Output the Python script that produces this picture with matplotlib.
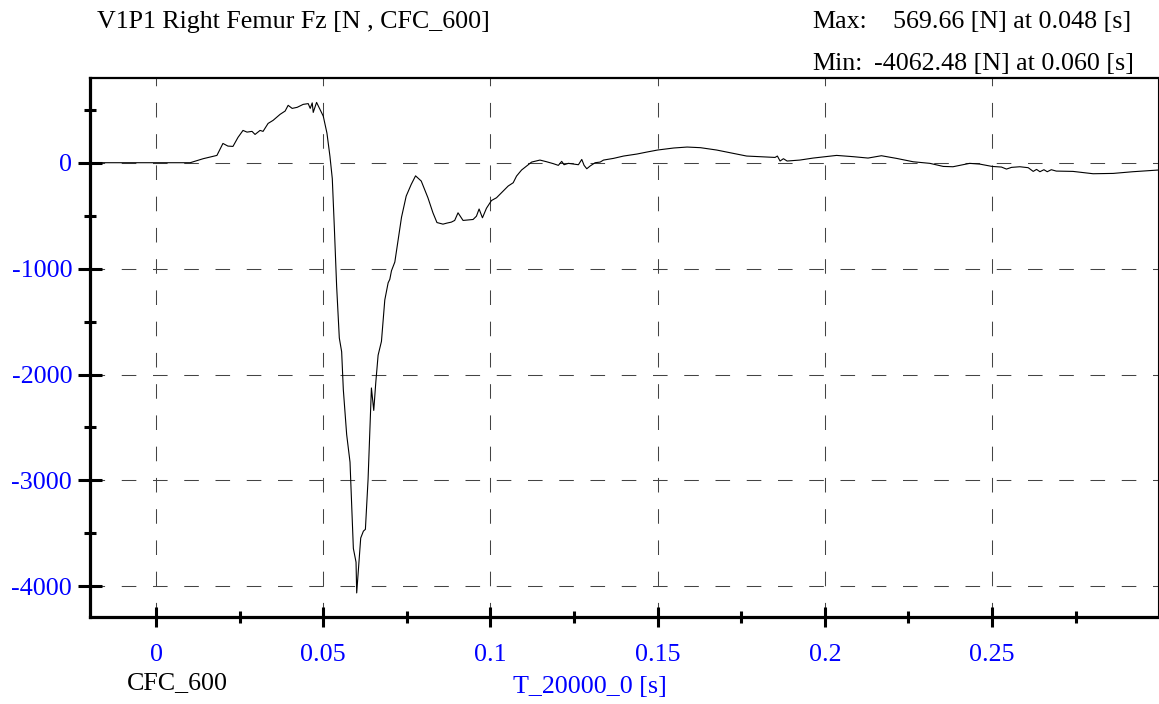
import matplotlib
matplotlib.use("Agg")
import matplotlib.pyplot as plt
from matplotlib.ticker import MultipleLocator
import numpy as np

# Right femur Fz
time_s = [-0.0167, 0.0, 0.0102, 0.0141, 0.0182, 0.0200, 0.0215, 0.0230, 0.0245, 0.0260,
          0.0272, 0.0287, 0.0296, 0.0311, 0.0320, 0.0335, 0.0350, 0.0371, 0.0386, 0.0395,
          0.0407, 0.0422, 0.0440, 0.0455, 0.0461, 0.0467, 0.0470, 0.0480, 0.0490, 0.0500,
          0.0511, 0.0520, 0.0527, 0.0533, 0.0540, 0.0548, 0.0555, 0.0560, 0.0570, 0.0580,
          0.0590, 0.0598, 0.0600, 0.0612, 0.0620, 0.0626, 0.0634, 0.0640, 0.0644, 0.0651,
          0.0657, 0.0664, 0.0674, 0.0684, 0.0694, 0.0699, 0.0704, 0.0714, 0.0724, 0.0734,
          0.0748, 0.0763, 0.0776, 0.0793, 0.0813, 0.0828, 0.0840, 0.0858, 0.0870, 0.0883,
          0.0893, 0.0903, 0.0918, 0.0933, 0.0948, 0.0958, 0.0966, 0.0976, 0.0988, 0.1003,
          0.1018, 0.1033, 0.1053, 0.1068, 0.1078, 0.1093, 0.1108, 0.1123, 0.1148, 0.1168,
          0.1188, 0.1203, 0.1213, 0.1220, 0.1233, 0.1248, 0.1263, 0.1273, 0.1280, 0.1288,
          0.1298, 0.1313, 0.1328, 0.1338, 0.1368, 0.1398, 0.1438, 0.1468, 0.1500, 0.1548,
          0.1588, 0.1628, 0.1676, 0.1726, 0.1766, 0.1806, 0.1851, 0.1858, 0.1866, 0.1876,
          0.1887, 0.1925, 0.1965, 0.2000, 0.2035, 0.2085, 0.2129, 0.2169, 0.2214, 0.2264,
          0.2314, 0.2354, 0.2383, 0.2433, 0.2463, 0.2500, 0.2528, 0.2543, 0.2558, 0.2583,
          0.2608, 0.2623, 0.2633, 0.2643, 0.2655, 0.2665, 0.2677, 0.2692, 0.2742, 0.2802,
          0.2862, 0.2921, 0.2997]
force_n = [0, 0, 0, 38, 69, 182, 157, 154, 239, 305,
           289, 296, 267, 305, 296, 371, 400, 457, 488, 542,
           513, 523, 551, 558, 513, 565, 475, 569.66, 504, 440,
           280, 60, -150, -600, -1166, -1655, -1785, -2143, -2567, -2827,
           -3642, -3772, -4062.48, -3544, -3479, -3462, -2990, -2469, -2127, -2339,
           -2078, -1818, -1687, -1296, -1134, -1101, -1020, -938, -726, -515,
           -315, -205, -124, -173, -331, -473, -565, -580, -570, -561,
           -545, -473, -545, -540, -536, -505, -437, -520, -430, -357,
           -331, -284, -220, -189, -126, -69, -32, 6, 25, 9,
           -9, -25, 13, -19, -6, -13, -19, 31, -25, -57,
           -31, 0, 6, 25, 41, 63, 82, 101, 120, 139,
           148, 142, 120, 88, 63, 57, 50, 63, 16, 38,
           16, 25, 44, 57, 69, 57, 44, 66, 41, 9,
           -6, -35, -38, -6, -13, -35, -41, -60, -44, -38,
           -47, -82, -63, -85, -66, -85, -66, -79, -82, -104,
           -101, -85, -69]

title = "V1P1 Right Femur Fz [N , CFC_600]"
filter_name = "CFC_600"
x_label = "T_20000_0 [s]"

t = np.array(time_s)
f = np.array(force_n)
i_max, i_min = f.argmax(), f.argmin()

plt.rcParams["font.family"] = ["Liberation Serif", "DejaVu Serif"]
FS = 18.7
W, H = 1159, 704
fig = plt.figure(figsize=(W / 100, H / 100), dpi=100)
ax = fig.add_axes([89.5 / W, 1 - 616.5 / H, (1158.3 - 89.5) / W, (616.5 - 78) / H])

ax.plot(t, f, color="black", lw=0.8)
ax.set_xlim(-0.0199, 0.2997)
ax.set_ylim(-4285, 800)

ax.xaxis.set_minor_locator(MultipleLocator(0.025))
ax.yaxis.set_minor_locator(MultipleLocator(500))
ax.set_xticks(np.arange(0, 0.26, 0.05))
ax.set_xticklabels(["0", "0.05", "0.1", "0.15", "0.2", "0.25"])
ax.set_yticks(np.arange(-4000, 1, 1000))
ax.set_yticklabels(["-4000", "-3000", "-2000", "-1000", "0"])

ax.grid(True, which="major", color="#444444", lw=0.75, ls=(0, (14, 16)))
ax.tick_params(axis="both", which="major", direction="inout", width=2.2,
               labelsize=FS, labelcolor="#0000ff")
ax.tick_params(axis="y", which="major", length=17, pad=4)
ax.tick_params(axis="x", which="major", length=15, pad=12)
ax.tick_params(axis="both", which="minor", direction="inout", width=2.2, length=8)

ax.spines["left"].set_linewidth(2.3)
ax.spines["bottom"].set_linewidth(2.3)
ax.spines["top"].set_linewidth(1.6)
ax.spines["right"].set_linewidth(0.8)

fig.text(97 / W, 1 - 22 / H, title, fontsize=FS, va="center", ha="left")
fig.text(812 / W, 1 - 22 / H, "Max:", fontsize=FS, va="center", ha="left")
fig.text(893 / W, 1 - 22 / H, f"{f[i_max]:.2f} [N] at {t[i_max]:.3f} [s]",
         fontsize=FS, va="center", ha="left")
fig.text(812 / W, 1 - 64 / H, "Min:", fontsize=FS, va="center", ha="left")
fig.text(874 / W, 1 - 64 / H, f"{f[i_min]:.2f} [N] at {t[i_min]:.3f} [s]",
         fontsize=FS, va="center", ha="left")
fig.text(177 / W, 1 - 683 / H, filter_name, fontsize=FS, va="center", ha="center")
fig.text(590 / W, 1 - 687 / H, x_label, fontsize=FS, va="center", ha="center",
         color="#0000ff")

fig.savefig("out.png", dpi=100)
